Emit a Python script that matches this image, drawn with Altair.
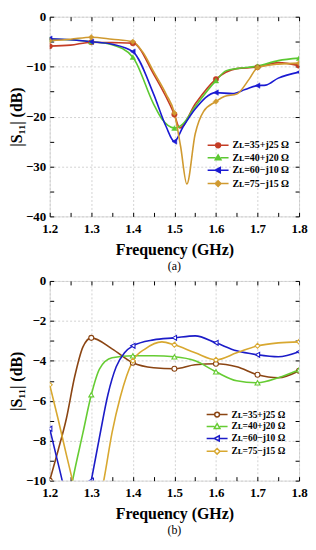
import altair as alt
import pandas as pd

FONT = "Liberation Serif"

names = ["Z\u029F=35+j25 \u03a9", "Z\u029F=40+j20 \u03a9", "Z\u029F=60\u2212j10 \u03a9", "Z\u029F=75\u2212j15 \u03a9"]

# ---------- panel (a) ----------
a_red_x = [1.2, 1.25, 1.3, 1.35, 1.4, 1.45, 1.5, 1.513, 1.55, 1.6, 1.65, 1.7, 1.75, 1.8]
a_red_y = [-5.9, -5.7, -5.1, -5.2, -5.3, -11.5, -19.6, -22.3, -17.5, -12.5, -10.4, -10.1, -9.2, -9.8]
a_grn_x = [1.2, 1.25, 1.3, 1.35, 1.4, 1.45, 1.47, 1.5, 1.52, 1.55, 1.6, 1.625, 1.65, 1.7, 1.75, 1.8]
a_grn_y = [-4.5, -4.6, -5.0, -5.6, -8.1, -17.5, -20.5, -22.3, -21.5, -18.0, -12.8, -10.8, -10.4, -9.9, -8.8, -8.3]
a_blu_x = [1.2, 1.25, 1.3, 1.35, 1.4, 1.45, 1.48, 1.5, 1.52, 1.55, 1.6, 1.64, 1.67, 1.7, 1.72, 1.75, 1.8]
a_blu_y = [-4.4, -4.6, -5.0, -5.5, -7.0, -15.5, -22.0, -25.0, -22.2, -18.5, -15.2, -15.4, -14.6, -13.8, -13.7, -12.3, -11.1]
a_org_x = [1.2, 1.25, 1.3, 1.35, 1.4, 1.425, 1.45, 1.48, 1.5, 1.515, 1.53, 1.55, 1.57, 1.6, 1.62, 1.65, 1.68, 1.7, 1.75, 1.8]
a_org_y = [-4.8, -4.5, -4.1, -4.5, -5.0, -7.2, -11.0, -15.5, -19.3, -26.0, -33.5, -23.5, -19.0, -17.0, -16.0, -15.5, -12.5, -10.2, -9.5, -9.3]

# ---------- panel (b) ----------
b_red_x = [1.2, 1.22, 1.24, 1.26, 1.28, 1.3, 1.35, 1.4, 1.45, 1.5, 1.55, 1.6, 1.65, 1.7, 1.75, 1.8]
b_red_y = [-10.0, -8.5, -6.9, -4.8, -3.3, -2.85, -3.4, -4.1, -4.35, -4.4, -4.2, -4.15, -4.3, -4.7, -4.85, -4.5]
b_grn_x = [1.2, 1.23, 1.255, 1.28, 1.3, 1.32, 1.35, 1.4, 1.45, 1.5, 1.55, 1.6, 1.65, 1.7, 1.75, 1.8]
b_grn_y = [-15.0, -13.0, -10.0, -7.6, -5.7, -4.4, -3.85, -3.75, -3.75, -3.8, -4.0, -4.55, -5.0, -5.1, -4.85, -4.45]
b_blu_x = [1.2, 1.215, 1.23, 1.25, 1.27, 1.3, 1.32, 1.34, 1.36, 1.38, 1.4, 1.45, 1.5, 1.55, 1.6, 1.65, 1.7, 1.75, 1.8]
b_blu_y = [-7.4, -8.7, -10.0, -12.0, -13.0, -10.0, -7.8, -5.7, -4.3, -3.6, -3.25, -2.95, -2.85, -2.75, -3.1, -3.5, -3.7, -3.8, -3.55]
b_org_x = [1.2, 1.22, 1.24, 1.255, 1.28, 1.3, 1.33, 1.35, 1.37, 1.4, 1.43, 1.47, 1.5, 1.55, 1.6, 1.65, 1.7, 1.75, 1.8]
b_org_y = [-5.2, -6.9, -8.7, -10.0, -12.0, -12.5, -10.0, -7.6, -5.8, -4.0, -3.4, -3.05, -3.2, -3.6, -3.95, -3.6, -3.25, -3.1, -3.05]

x_ticks = [1.2, 1.3, 1.4, 1.5, 1.6, 1.7, 1.8]
x_minor = [1.2, 1.25, 1.3, 1.35, 1.4, 1.45, 1.5, 1.55, 1.6, 1.65, 1.7, 1.75, 1.8]
a_y_ticks = [-40, -30, -20, -10, 0]
a_y_minor = [-40, -35, -30, -25, -20, -15, -10, -5, 0]
b_y_ticks = [-10, -8, -6, -4, -2, 0]
b_y_minor = [-10, -9, -8, -7, -6, -5, -4, -3, -2, -1, 0]

a_colors = ["#C43C25", "#5CC832", "#1A1AD2", "#D09A30"]
b_colors = ["#8B4513", "#66CC33", "#1C1CC8", "#D8A830"]
shapes = ["circle", "triangle-up", "triangle-left", "diamond"]
legend_paths = [
    "M-2.4,0H-0.55M0.55,0H2.4M-0.55,0A0.55,0.55 0 1,1 0.55,0A0.55,0.55 0 1,1 -0.55,0Z",
    "M-2.4,0H-0.6M0.6,0H2.4M0,-0.65L0.65,0.45L-0.65,0.45Z",
    "M-2.4,0H-0.6M0.55,0H2.4M-0.65,0L0.5,-0.6L0.5,0.6Z",
    "M-2.4,0H-0.65M0.65,0H2.4M0,-0.65L0.65,0L0,0.65L-0.65,0Z",
]


def make_df(xs_list, ys_list):
    rows = []
    for name, xs, ys in zip(names, xs_list, ys_list):
        for f, v in zip(xs, ys):
            mk = abs(f * 10 - round(f * 10)) < 1e-6
            rows.append({"series": name, "f": f, "s11": v, "marker": mk})
    return pd.DataFrame(rows)


def panel(df, ydom, yticks, yminor, colors, filled, label, leg_x, leg_y, row_pad, leg_font, msize):
    xs = alt.Scale(domain=[1.2, 1.8], nice=False, zero=False)
    ys = alt.Scale(domain=ydom, nice=False, zero=False)

    ax_main_x = alt.Axis(orient="bottom", values=x_ticks, format=".1f", ticks=False, domain=False,
                         labelFlush=False,
                         labelFont=FONT, labelFontSize=13, labelFontWeight="bold", labelColor="black",
                         labelPadding=6, title="Frequency (GHz)", titleFont=FONT, titleFontSize=16,
                         titleFontWeight="bold", titleColor="black", titlePadding=6,
                         grid=True, gridColor="#c8c8c8", gridDash=[2, 2], gridWidth=0.8)
    ax_main_y = alt.Axis(orient="left", values=yticks, format="d", ticks=False, domain=False,
                         labelFont=FONT, labelFontSize=13, labelFontWeight="bold", labelColor="black",
                         labelPadding=4, title="|S\u2081\u2081| (dB)", titleFont=FONT, titleFontSize=16,
                         titleFontWeight="bold", titleColor="black", titlePadding=1,
                         grid=True, gridColor="#c8c8c8", gridDash=[2, 2], gridWidth=0.8)

    def tick_axis(orient, vals):
        return alt.Axis(orient=orient, values=vals, offset=-4, tickSize=4, tickColor="black",
                        tickWidth=1, labels=False, domain=False, grid=False, title=None)

    layers = []
    for i, name in enumerate(names):
        if i == 0:
            axx, axy = ax_main_x, ax_main_y
        else:
            axx, axy = None, None
        layers.append(
            alt.Chart(df).transform_filter(alt.datum.series == name)
            .mark_line(interpolate="monotone", clip=True, strokeWidth=1.6, color=colors[i])
            .encode(
                x=alt.X("f:Q", scale=xs, axis=axx),
                y=alt.Y("s11:Q", scale=ys, axis=axy),
            )
        )
    for i, name in enumerate(names):
        if i == 0:
            axx, axy = tick_axis("bottom", x_minor), tick_axis("left", yminor)
        elif i == 1:
            axx, axy = tick_axis("top", x_minor), tick_axis("right", yminor)
        else:
            axx, axy = None, None
        if filled:
            mk = dict(shape=shapes[i], filled=True, fill=colors[i], stroke=colors[i],
                      strokeWidth=0.5, size=msize, opacity=1, clip=True)
        else:
            mk = dict(shape=shapes[i], filled=True, fill="white", stroke=colors[i],
                      strokeWidth=1.1, size=msize, opacity=1, clip=True)
        layers.append(
            alt.Chart(df).transform_filter(
                (alt.datum.series == name) & (alt.datum.marker == True)
            ).mark_point(**mk).encode(
                x=alt.X("f:Q", scale=xs, axis=axx),
                y=alt.Y("s11:Q", scale=ys, axis=axy),
            )
        )

    leg = alt.Legend(orient="none", legendX=leg_x, legendY=leg_y, title=None,
                     labelFont=FONT, labelFontSize=leg_font, labelFontWeight="bold", labelColor="black",
                     symbolSize=77, symbolStrokeWidth=1.5, labelOffset=9, rowPadding=row_pad, padding=0)
    enc = dict(
        x=alt.X("f:Q", scale=xs, axis=None),
        y=alt.Y("s11:Q", scale=ys, axis=None),
        shape=alt.Shape("series:N", scale=alt.Scale(domain=names, range=legend_paths), legend=leg),
        stroke=alt.Stroke("series:N", scale=alt.Scale(domain=names, range=colors), legend=leg),
    )
    if filled:
        enc["fill"] = alt.Fill("series:N", scale=alt.Scale(domain=names, range=colors), legend=leg)
    else:
        enc["fill"] = alt.value("white")
    legend_layer = alt.Chart(df).transform_filter("false").mark_point(filled=True, opacity=1).encode(**enc)
    layers.append(legend_layer)

    return alt.layer(*layers).resolve_axis(x="independent", y="independent").properties(
        width=251, height=201,
        title=alt.TitleParams(label, orient="bottom", anchor="middle", frame="group", font=FONT,
                              fontSize=12, fontWeight="normal", color="black", offset=4),
    )


df_a = make_df([a_red_x, a_grn_x, a_blu_x, a_org_x], [a_red_y, a_grn_y, a_blu_y, a_org_y])
df_b = make_df([b_red_x, b_grn_x, b_blu_x, b_org_x], [b_red_y, b_grn_y, b_blu_y, b_org_y])

top = panel(df_a, [-40, 0], a_y_ticks, a_y_minor, a_colors, True, "(a)", 164, 124, 0.5, 10, 30)
bottom = panel(df_b, [-10, 0], b_y_ticks, b_y_minor, b_colors, False, "(b)", 163, 129, 0, 9.5, 25)

chart = alt.vconcat(top, bottom, spacing=1).resolve_scale(
    x="independent", y="independent", shape="independent", fill="independent", stroke="independent"
).properties(
    padding={"left": 0, "top": 0, "right": 0, "bottom": 0}
).configure_view(stroke="black", strokeWidth=1.5).configure(background="white")

chart.save("out.html", embed_options={"renderer": "svg", "actions": False})
